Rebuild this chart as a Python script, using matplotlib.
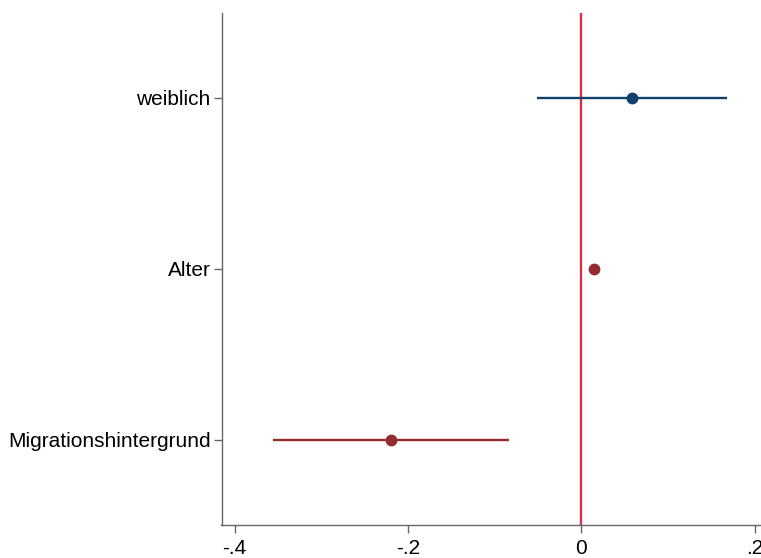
import matplotlib
matplotlib.use("Agg")
import matplotlib.pyplot as plt

categories = ["weiblich", "Alter", "Migrationshintergrund"]
estimates = [0.058, 0.0144, -0.2196]
ci_low = [-0.0513, 0.011, -0.3559]
ci_high = [0.1677, 0.018, -0.0830]
colors = ["#123f6c", "#962a31", "#962a31"]
xticks = [-0.4, -0.2, 0, 0.2]
xticklabels = ["-.4", "-.2", "0", ".2"]

plt.rcParams['font.family'] = ['Liberation Sans', 'DejaVu Sans']

fig = plt.figure(figsize=(7.61, 5.58), dpi=100)
W, H = 761, 558
left, right, top, bottom = 221.5, 761, 12.5, 525
ax = fig.add_axes([left / W, (H - bottom) / H, (right - left) / W, (bottom - top) / H])

ypos = [3, 2, 1]
ax.axvline(0, color="#dc2f4a", lw=1.7, zorder=1)
for y, est, lo, hi, c in zip(ypos, estimates, ci_low, ci_high, colors):
    ax.plot([lo, hi], [y, y], color=c, lw=1.7, zorder=2, solid_capstyle='butt')
    ax.plot(est, y, 'o', color=c, ms=7.5, zorder=3)

ax.set_xlim(-0.415, 0.207)
ax.set_ylim(0.5, 3.5)
ax.set_yticks(ypos)
ax.set_yticklabels(categories)
ax.set_xticks(xticks)
ax.set_xticklabels(xticklabels)
ax.tick_params(axis='both', labelsize=15, length=6, width=1, color='#666666', pad=2)
ax.tick_params(axis='x', pad=4)
for s in ['top', 'right']:
    ax.spines[s].set_visible(False)
for s in ['left', 'bottom']:
    ax.spines[s].set_color('#666666')
    ax.spines[s].set_linewidth(1)

fig.savefig("out.png", dpi=100)
